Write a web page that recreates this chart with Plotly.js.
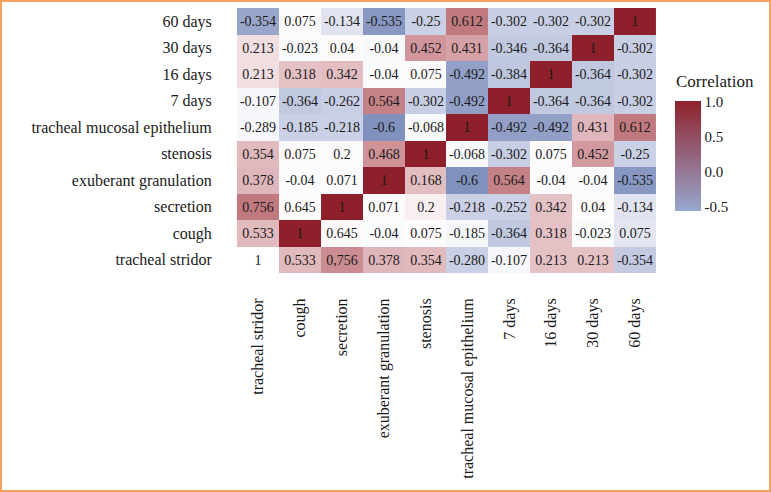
<!DOCTYPE html>
<html>
<head>
<meta charset="utf-8">
<script src="https://cdn.plot.ly/plotly-3.0.1.min.js"></script>
<style>
  html, body { margin: 0; padding: 0; background: #ffffff; }
  #wrap { position: relative; width: 771px; height: 492px; }
  #chart { position: absolute; left: 0; top: 0; width: 771px; height: 492px; }
  #frame { position: absolute; left: 0; top: 0; width: 771px; height: 492px; box-sizing: border-box;
           border: 2px solid #F5A25E; pointer-events: none; }
</style>
</head>
<body>
<div id="wrap"><div id="chart"></div><div id="frame"></div></div>
<script>
// Categories (same order on both axes; y listed bottom -> top)
const categories = ["tracheal stridor", "cough", "secretion", "exuberant granulation", "stenosis",
  "tracheal mucosal epithelium", "7 days", "16 days", "30 days", "60 days"];

// Printed correlation labels, rows bottom -> top, columns left -> right
const labels = [
  ["1", "0.533", "0,756", "0.378", "0.354", "-0.280", "-0.107", "0.213", "0.213", "-0.354"],
  ["0.533", "1", "0.645", "-0.04", "0.075", "-0.185", "-0.364", "0.318", "-0.023", "0.075"],
  ["0.756", "0.645", "1", "0.071", "0.2", "-0.218", "-0.252", "0.342", "0.04", "-0.134"],
  ["0.378", "-0.04", "0.071", "1", "0.168", "-0.6", "0.564", "-0.04", "-0.04", "-0.535"],
  ["0.354", "0.075", "0.2", "0.468", "1", "-0.068", "-0.302", "0.075", "0.452", "-0.25"],
  ["-0.289", "-0.185", "-0.218", "-0.6", "-0.068", "1", "-0.492", "-0.492", "0.431", "0.612"],
  ["-0.107", "-0.364", "-0.262", "0.564", "-0.302", "-0.492", "1", "-0.364", "-0.364", "-0.302"],
  ["0.213", "0.318", "0.342", "-0.04", "0.075", "-0.492", "-0.384", "1", "-0.364", "-0.302"],
  ["0.213", "-0.023", "0.04", "-0.04", "0.452", "0.431", "-0.346", "-0.364", "1", "-0.302"],
  ["-0.354", "0.075", "-0.134", "-0.535", "-0.25", "0.612", "-0.302", "-0.302", "-0.302", "1"]
];

// Cell fill values (colour-scale units)
const fillValues = [
  [0, 0.35, 0.5, 0.36, 0.35, -0.29, -0.04, 0.33, 0.33, -0.32],
  [0.35, 1, 0.04, -0.02, 0.02, -0.04, -0.33, 0.33, -0.02, -0.12],
  [0.6, 0.02, 1, 0.03, 0.1, -0.27, -0.28, 0.33, 0.02, -0.13],
  [0.36, -0.02, 0.03, 1, 0.34, -0.6, 0.56, -0.02, -0.02, -0.54],
  [0.35, 0.03, 0.03, 0.47, 1, -0.03, -0.3, 0.03, 0.44, -0.28],
  [-0.04, -0.28, -0.28, -0.6, -0.03, 1, -0.49, -0.49, 0.36, 0.6],
  [-0.04, -0.33, -0.3, 0.56, -0.3, -0.49, 1, -0.33, -0.33, -0.3],
  [0.2, 0.33, 0.34, -0.02, 0.03, -0.49, -0.34, 1, -0.33, -0.3],
  [0.2, -0.02, 0.03, -0.03, 0.45, 0.42, -0.33, -0.33, 1, -0.3],
  [-0.47, 0.03, -0.13, -0.54, -0.28, 0.6, -0.3, -0.3, -0.3, 1]
];

// Colour-bar ticks
const cbTitle = "Correlation";
const cbTickVals = [-0.5, 0.0, 0.5, 1.0];
const cbTickText = ["-0.5", "0.0", "0.5", "1.0"];
const cbRange = [-0.56, 1.01];

const FONT = "Liberation Serif, Times New Roman, serif";

const cellScale = [
  [0.0, "rgb(128,145,190)"],
  [0.0625, "rgb(142,157,198)"],
  [0.125, "rgb(178,188,217)"],
  [0.1875, "rgb(200,206,228)"],
  [0.25, "rgb(209,214,233)"],
  [0.3125, "rgb(232,234,243)"],
  [0.375, "rgb(255,255,255)"],
  [0.4375, "rgb(249,239,240)"],
  [0.5, "rgb(240,222,225)"],
  [0.58125, "rgb(228,193,197)"],
  [0.65625, "rgb(208,150,155)"],
  [0.75, "rgb(192,122,127)"],
  [1.0, "rgb(141,32,42)"]
];

const heat = {
  type: "heatmap",
  x: categories,
  y: categories,
  z: fillValues,
  text: labels,
  texttemplate: "%{text}",
  textfont: { family: FONT, size: 14, color: "#1a1a1a" },
  zmin: -0.6, zmax: 1.0,
  colorscale: cellScale,
  showscale: false,
  hoverinfo: "skip"
};

// invisible trace that only carries the colour bar legend
const legendTrace = {
  type: "scatter",
  mode: "markers",
  x: [categories[0]],
  y: [categories[0]],
  hoverinfo: "skip",
  showlegend: false,
  marker: {
    opacity: 0,
    color: [cbRange[0]],
    cmin: cbRange[0], cmax: cbRange[1],
    colorscale: [[0, "rgb(151,167,207)"], [1, "rgb(143,35,45)"]],
    showscale: true,
    colorbar: {
      tickvals: cbTickVals,
      ticktext: cbTickText,
      tickfont: { family: FONT, size: 15, color: "#1a1a1a" },
      ticks: "",
      outlinewidth: 0,
      thickness: 26,
      len: 110, lenmode: "pixels",
      x: 1.045, xanchor: "left",
      y: 0.45, yanchor: "middle",
      xpad: 0, ypad: 0
    }
  }
};

const layout = {
  width: 771, height: 492,
  margin: { l: 233, r: 115, t: 8, b: 215 },
  paper_bgcolor: "#ffffff",
  plot_bgcolor: "#ffffff",
  font: { family: FONT, size: 16, color: "#1a1a1a" },
  xaxis: {
    type: "category",
    categoryorder: "array", categoryarray: categories,
    tickangle: -90,
    ticks: "outside", ticklen: 14, tickcolor: "rgba(0,0,0,0)",
    tickfont: { family: FONT, size: 16, color: "#1a1a1a" },
    showgrid: false, zeroline: false, showline: false
  },
  yaxis: {
    type: "category",
    categoryorder: "array", categoryarray: categories,
    ticks: "outside", ticklen: 17, tickcolor: "rgba(0,0,0,0)",
    tickfont: { family: FONT, size: 16, color: "#1a1a1a" },
    showgrid: false, zeroline: false, showline: false
  },
  annotations: [{
    text: cbTitle,
    xref: "paper", yref: "paper",
    x: 1.043, y: 0.728,
    xanchor: "left", yanchor: "middle",
    showarrow: false,
    font: { family: FONT, size: 17, color: "#1a1a1a" }
  }],
  showlegend: false
};

Plotly.newPlot("chart", [heat, legendTrace], layout, { displayModeBar: false, staticPlot: true });
</script>
</body>
</html>
